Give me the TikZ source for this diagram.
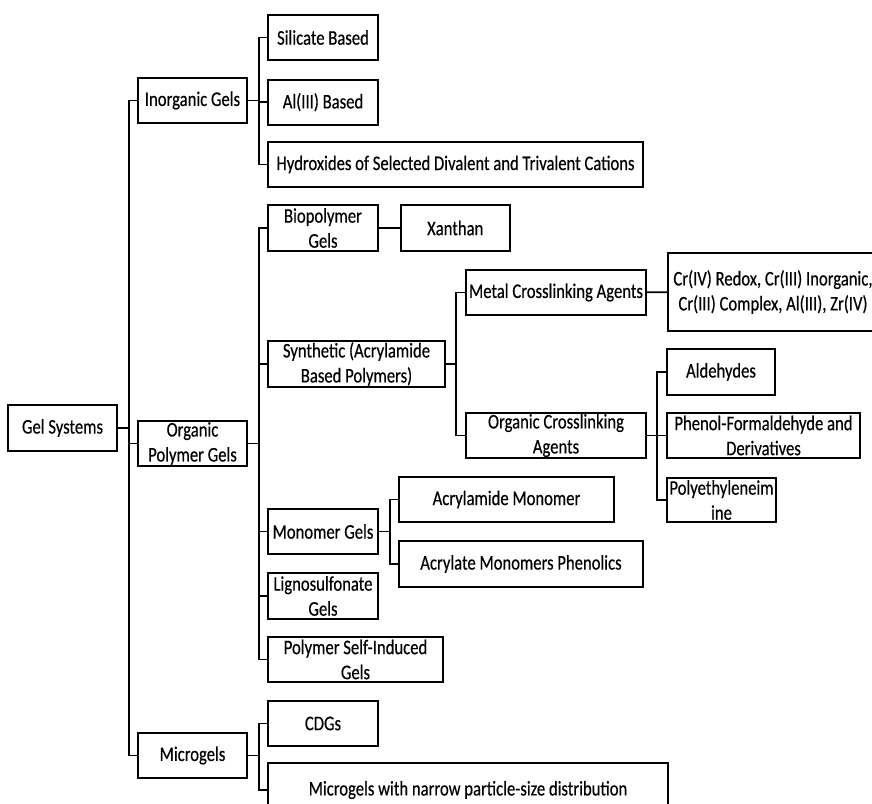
\documentclass[tikz,border=0pt]{standalone}
\usepackage{fontspec}
\setmainfont{Carlito}[FakeStretch=0.8, FakeBold=0.4]
\usetikzlibrary{positioning}
\tikzset{
  gelbox/.style={draw, line width=1.3pt, align=center, inner sep=0pt,
    minimum height=45*0.75pt, font=\fontsize{15.6pt}{18.75pt}\selectfont},
  link/.style={line width=1.3pt},
}

\begin{document}
\begin{tikzpicture}[x=0.75pt, y=-0.75pt]
  \useasboundingbox (0,0) rectangle (872,804);

  % root and first level
  \node[gelbox, minimum width=109*0.75pt, minimum height=46*0.75pt] (gs) at (62.5,428) {Gel Systems};
  \node[gelbox, minimum width=109*0.75pt] (inorg) at (192.5,100.5) {Inorganic Gels};
  \node[gelbox, minimum width=109*0.75pt] (orgpol) at (192.5,443.5) {Organic\\Polymer Gels};
  \node[gelbox, minimum width=109*0.75pt] (micro) at (192.5,755.5) {Microgels};

  % inorganic gels
  \node[gelbox, minimum width=110*0.75pt] (silic) at (323,37.5) {Silicate Based};
  \node[gelbox, minimum width=110*0.75pt, below=18*0.75pt of silic] (alb) {Al(III) Based};
  \node[gelbox, minimum width=375*0.75pt] (hydrox) at (455.5,164.5)
    {Hydroxides of Selected Divalent and Trivalent Cations};

  % organic polymer gels
  \node[gelbox, minimum width=110*0.75pt, minimum height=46*0.75pt] (bio) at (323,228) {Biopolymer\\Gels};
  \node[gelbox, minimum width=109*0.75pt, minimum height=46*0.75pt, right=21*0.75pt of bio] (xanth) {Xanthan};
  \node[gelbox, minimum width=177*0.75pt, minimum height=46*0.75pt] (synth) at (356.5,364)
    {Synthetic (Acrylamide\\Based Polymers)};
  \node[gelbox, minimum width=180*0.75pt] (metal) at (556,292.5) {Metal Crosslinking Agents};
  \node[gelbox, minimum width=210*0.75pt, minimum height=78*0.75pt] (cragent) at (773,292)
    {Cr(IV) Redox, Cr(III) Inorganic,\\Cr(III) Complex, Al(III), Zr(IV)};
  \node[gelbox, minimum width=180*0.75pt] (orgcross) at (556,435.5) {Organic Crosslinking\\Agents};
  \node[gelbox, minimum width=108*0.75pt, minimum height=46*0.75pt] (aldeh) at (721,372) {Aldehydes};
  \node[gelbox, minimum width=193*0.75pt] (phenol) at (763.5,435.5) {Phenol-Formaldehyde and\\Derivatives};
  \node[gelbox, minimum width=109*0.75pt, minimum height=44*0.75pt] (pei) at (721.5,500) {Polyethyleneim\\ine};
  \node[gelbox, minimum width=110*0.75pt] (mono) at (323,531.5) {Monomer Gels};
  \node[gelbox, minimum width=215*0.75pt] (acrylam) at (506.5,499.5) {Acrylamide Monomer};
  \node[gelbox, minimum width=244*0.75pt, minimum height=46*0.75pt] (acrylat) at (521,564)
    {Acrylate Monomers Phenolics};
  \node[gelbox, minimum width=110*0.75pt, minimum height=46*0.75pt] (ligno) at (323,596) {Lignosulfonate\\Gels};
  \node[gelbox, minimum width=175*0.75pt] (selfind) at (355.5,659.5) {Polymer Self-Induced\\Gels};

  % microgels
  \node[gelbox, minimum width=110*0.75pt] (cdg) at (323,723.5) {CDGs};
  \node[gelbox, minimum width=400*0.75pt, minimum height=54*0.75pt] (narrow) at (468,790)
    {Microgels with narrow particle-size distribution};

  % connectors
  \foreach \c in {inorg, orgpol, micro}
    \draw[link] (gs.east) -- ++(11,0) |- (\c.west);
  \foreach \c in {silic, alb, hydrox}
    \draw[link] (inorg.east) -- ++(11,0) |- (\c.west);
  \foreach \c in {bio, synth, mono, ligno, selfind}
    \draw[link] (orgpol.east) -- ++(11,0) |- (\c.west);
  \foreach \c in {cdg, narrow}
    \draw[link] (micro.east) -- ++(11,0) |- (\c.west);
  \draw[link] (bio) -- (xanth);
  \foreach \c in {metal, orgcross}
    \draw[link] (synth.east) -- ++(10,0) |- (\c.west);
  \draw[link] (metal) -- (cragent);
  \foreach \c in {aldeh, phenol, pei}
    \draw[link] (orgcross.east) -- ++(10,0) |- (\c.west);
  \foreach \c in {acrylam, acrylat}
    \draw[link] (mono.east) -- ++(11,0) |- (\c.west);
\end{tikzpicture}
\end{document}
